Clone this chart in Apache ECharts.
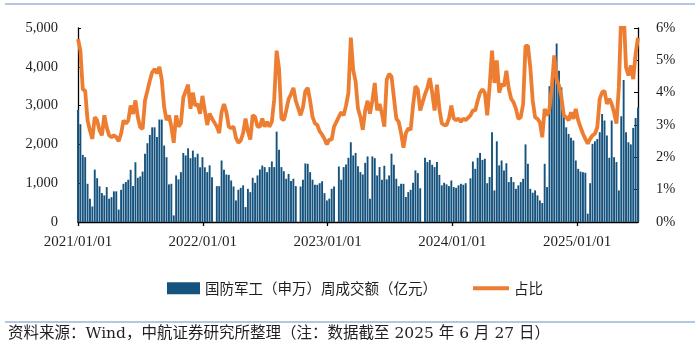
<!DOCTYPE html>
<html><head><meta charset="utf-8">
<script src="https://cdn.jsdelivr.net/npm/echarts@6/dist/echarts.min.js"></script>
<style>html,body{margin:0;padding:0;background:#fff}#c{width:700px;height:352px}</style>
</head><body><div id="c"></div>
<script>
// Weekly data (week ending Friday), first week 2021-01-01, last week 2025-06-27; null = no trading that week
const firstWeek = [2021, 0, 1];
const lastWeek = [2025, 5, 27];
const yearLabels = ['2021/01/01', '2022/01/01', '2023/01/01', '2024/01/01', '2025/01/01'];
const turnover = [
2890,2520,1730,1670,985,600,400,1350,1130,920,
745,685,900,600,640,790,790,320,830,985,
1030,1090,1345,925,1540,1140,1175,1300,1760,2030,
2245,2440,2440,2190,2640,2640,1970,1670,970,985,
170,1200,1100,1285,1780,1715,1900,1645,1840,1670,
1760,1410,1670,1410,1285,1460,1155,null,925,925,
1585,1345,1225,1215,1070,915,555,830,880,945,
385,855,770,1140,1010,1200,1355,1455,1415,1285,
1415,1560,1415,2330,1860,1415,1310,1115,1240,1055,
1115,925,null,915,1090,1510,1500,1285,1090,960,
960,1000,1050,745,555,600,855,915,null,1430,
1090,1415,1480,1655,2055,1715,1780,1440,1285,1225,
1525,1690,600,1690,1645,1200,1415,1090,1450,1100,
1200,1760,1475,1115,925,985,985,645,770,830,
1010,1330,1260,870,null,1655,1545,1600,1475,1415,
1545,1215,945,1010,970,925,1070,900,880,945,
985,960,1000,null,1125,1560,1370,1655,1780,1600,
1630,1000,1160,2315,815,2080,1460,1585,1330,1515,
1030,1160,1030,855,945,1030,1115,2000,1500,855,
755,815,685,555,490,1500,900,3500,3700,4000,
4600,3900,3470,2700,2440,2270,2170,2100,1585,1370,
1300,1285,1270,215,1000,2015,2080,2140,2315,2785,
2615,2230,1655,2615,1670,1545,815,2725,3660,2315,
2055,2000,2425,2680,2950
];
const share = [
5.66,5.3,4.1,4.06,3.14,2.83,2.57,3.24,3.14,2.83,
2.68,3.3,2.93,2.68,2.62,2.68,2.62,2.5,2.73,3.14,
3.04,3.14,3.6,3.34,3.76,3.24,2.93,2.88,3.76,4.06,
4.37,4.63,4.73,4.6,4.8,4.4,3.55,3.15,3.3,2.95,
2.45,3.3,2.95,3.05,3.85,4.05,4.25,3.5,4.0,3.6,
3.65,3.35,3.9,3.45,3.0,3.35,3.2,null,2.95,2.75,
3.4,3.65,3.4,2.95,2.9,2.95,2.6,2.45,2.52,2.75,
3.2,2.8,2.55,3.3,3.25,2.95,2.95,3.2,2.95,3.1,
2.95,3.1,3.8,5.3,4.75,3.2,3.15,3.45,3.8,3.95,
4.15,3.75,null,3.3,3.55,4.05,4.15,3.75,3.25,3.05,
3.0,2.8,2.7,2.57,2.4,2.55,2.55,2.95,null,3.25,
3.4,3.3,3.6,4.0,5.7,4.7,4.35,3.5,3.25,2.85,
3.45,3.75,3.35,3.75,4.3,3.45,3.65,3.35,2.95,4.4,
4.58,4.5,3.85,3.2,3.1,2.75,2.3,2.75,2.9,2.85,
3.6,4.2,4.1,3.45,null,3.95,4.15,4.45,4.0,3.45,
4.25,3.5,3.05,3.0,3.0,3.2,3.6,3.2,3.15,3.2,
3.1,3.2,3.15,null,3.3,3.45,3.45,3.75,4.0,4.1,
4.0,3.3,4.2,5.3,4.3,5.0,4.0,4.27,4.2,4.68,
4.12,3.81,3.7,3.5,3.19,3.24,3.65,5.45,5.45,4.78,
3.76,3.24,3.19,3.09,2.62,3.5,3.29,3.5,4.17,5.15,
4.42,4.22,3.86,3.29,3.24,3.14,3.39,3.19,3.5,3.14,
2.93,2.73,2.57,2.42,2.57,2.68,2.73,2.93,3.81,4.01,
4.06,3.65,3.81,3.65,3.39,3.04,4.17,6.5,6.5,4.78,
4.53,4.84,4.42,5.2,5.7
];
const barName = '国防军工（申万）周成交额（亿元）';
const lineName = '占比';
const sourceText = '资料来源：Wind，中航证券研究所整理（注：数据截至 2025 年 6 月 27 日）';

const pad = n => (n < 10 ? '0' : '') + n;
const weekDates = turnover.map((_, k) => {
  const d = new Date(firstWeek[0], firstWeek[1], firstWeek[2] + 7 * k);
  return d.getFullYear() + '-' + pad(d.getMonth() + 1) + '-' + pad(d.getDate());
});
const DAY = 864e5;
const t0 = new Date(firstWeek[0], firstWeek[1], firstWeek[2]).getTime();
const totalDays = Math.round((new Date(lastWeek[0], lastWeek[1], lastWeek[2]).getTime() - t0) / DAY);
const numFont = 'Liberation Serif';
const cjkFont = 'Noto Sans CJK SC';
const axisColor = '#000';
const textColor = '#1f1f1f';

const chart = echarts.init(document.getElementById('c'));
chart.setOption({
  animation: false,
  grid: {left: 78, right: 62, top: 28, bottom: 130},
  xAxis: [{
    type: 'category', data: weekDates, boundaryGap: false,
    axisLine: {lineStyle: {color: axisColor, width: 1.3}},
    axisTick: {show: false}, axisLabel: {show: false}, splitLine: {show: false}
  }, {
    // calendar axis (days since 2021-01-01) carrying the year ticks and labels
    type: 'value', min: 0, max: totalDays, interval: 365, position: 'bottom',
    axisLine: {show: false},
    axisTick: {show: true, length: 4, lineStyle: {color: axisColor, width: 1.3}},
    splitLine: {show: false},
    axisLabel: {
      showMaxLabel: false,
      formatter: v => (v % 365 === 0 && v / 365 < yearLabels.length) ? yearLabels[v / 365] : '',
      color: textColor, fontFamily: numFont, fontSize: 15, margin: 13
    }
  }],
  yAxis: [{
    type: 'value', min: 0, max: 5000, interval: 1000,
    axisLine: {show: true, lineStyle: {color: axisColor, width: 1.3}},
    axisTick: {show: true, inside: true, length: 3, lineStyle: {color: axisColor}},
    splitLine: {show: false},
    axisLabel: {formatter: v => String(v).replace(/\B(?=(\d{3})+(?!\d))/g, ','), color: textColor, fontFamily: numFont, fontSize: 14.5, margin: 20}
  }, {
    type: 'value', min: 0, max: 6, interval: 1, position: 'right',
    axisLine: {show: true, lineStyle: {color: axisColor, width: 1.3}},
    axisTick: {show: true, inside: true, length: 4, lineStyle: {color: axisColor}},
    splitLine: {show: false},
    axisLabel: {formatter: '{value}%', color: textColor, fontFamily: numFont, fontSize: 14.5, margin: 18}
  }],
  legend: [{
    top: 281, left: 167, padding: 0, itemWidth: 33, itemHeight: 12, itemTextGap: 3,
    textStyle: {fontFamily: cjkFont, fontSize: 14.5, color: textColor},
    data: [{name: barName, icon: 'rect'}]
  }, {
    top: 281, left: 473, padding: 0, itemWidth: 36, itemHeight: 4, itemTextGap: 2, icon: 'rect',
    textStyle: {fontFamily: cjkFont, fontSize: 14.5, color: textColor},
    data: [{name: lineName, icon: 'rect'}]
  }],
  series: [{
    name: barName, type: 'bar', data: turnover, barWidth: 1.9,
    itemStyle: {color: '#15537e'}
  }, {
    name: lineName, type: 'line', yAxisIndex: 1, data: share,
    showSymbol: false, symbol: 'none', connectNulls: true, z: 5,
    lineStyle: {width: 3.8, color: '#ED7D31'}, itemStyle: {color: '#ED7D31'}
  }],
  graphic: [
    {type: 'line', shape: {x1: 5, y1: 4, x2: 695, y2: 4}, style: {stroke: '#9bb3d9', lineWidth: 1.5}},
    {type: 'line', shape: {x1: 5, y1: 322, x2: 695, y2: 322}, style: {stroke: '#9bb3d9', lineWidth: 1.5}},
    {type: 'text', left: 8, top: 326, style: {text: sourceText, font: '15.5px "DejaVu Serif", "Noto Sans CJK SC"', fill: textColor}}
  ]
});
</script></body></html>
